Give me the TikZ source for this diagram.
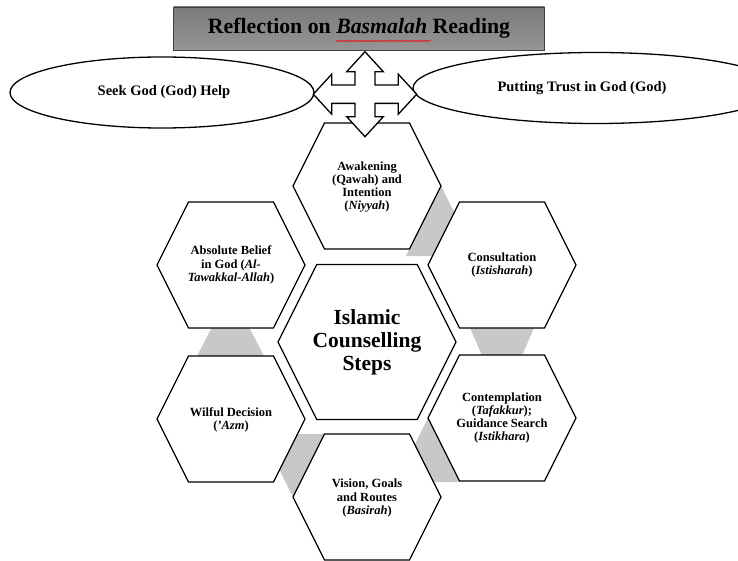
\documentclass[tikz,border=0pt]{standalone}
\usepackage{fontspec}
\setmainfont{Liberation Serif}
\usetikzlibrary{shapes.geometric,decorations.pathmorphing}
\definecolor{conn}{RGB}{200,200,200}
\definecolor{titletop}{RGB}{122,122,122}
\definecolor{titlebot}{RGB}{150,150,150}
\newcommand\hexat[5]{\draw[hexbox] ({#1-#3},#2) -- ({#1-#3+#5},{#2-#4}) -- ({#1+#3-#5},{#2-#4}) -- ({#1+#3},#2) -- ({#1+#3-#5},{#2+#4}) -- ({#1-#3+#5},{#2+#4}) -- cycle;}
\begin{document}
\begin{tikzpicture}[x=1pt,y=-1pt,
  hexbox/.style={draw=black,line width=1.3pt,fill=white,line join=miter},
  conbox/.style={fill=conn,draw=none},
  steptext/.style={align=center,font=\fontsize{12.5}{13.3}\selectfont\bfseries,inner sep=0pt},
  maintext/.style={align=center,font=\fontsize{21.5}{23}\selectfont\bfseries,inner sep=0pt},
  ovalbox/.style={draw=black,line width=1.3pt,fill=white,ellipse,inner sep=0pt},
  ovaltext/.style={font=\fontsize{14.5}{16}\selectfont\bfseries,inner sep=0pt},
  titlebox/.style={draw=black!75,line width=0.8pt,top color=titletop,bottom color=titlebot,minimum width=371pt,minimum height=43pt,inner sep=0pt,font=\fontsize{21.8}{24}\selectfont\bfseries},
  quadarrow/.style={draw=black,line width=1.3pt,fill=white,line join=miter}]
\useasboundingbox (0,0) rectangle (738,561);
% gray connectors
\fill[conbox] (441,186) -- (476,256) -- (406,256) -- cycle;
\fill[conbox] (467.5,322) -- (536.5,322) -- (521,358) -- (483,358) -- cycle;
\fill[conbox] (428,418) -- (460,482) -- (396,482) -- cycle;
\fill[conbox] (293,497) -- (261.5,434) -- (326,434) -- cycle;
\fill[conbox] (212.5,326) -- (248.5,326) -- (265,358) -- (196,358) -- cycle;
% hexagons
\hexat{367}{186}{74}{63}{31.5}
\hexat{502}{265}{74}{63}{31.5}
\hexat{502}{418}{74}{63}{31.5}
\hexat{367}{497}{74}{63}{31.5}
\hexat{231}{419}{74}{63}{31.5}
\hexat{231}{265}{74}{63}{31.5}
\hexat{367}{342}{89}{77.5}{38.75}
% texts
\node[maintext] (core) at (367,342) {Islamic\\Counselling\\Steps};
\node[steptext] (awake) at (367,187) {Awakening\\(Qawah) and\\Intention\\(\textit{Niyyah})};
\node[steptext] (consult) at (502,265) {Consultation\\(\textit{Istisharah})};
\node[steptext] (contemp) at (502,418) {Contemplation\\(\textit{Tafakkur});\\Guidance Search\\(\textit{Istikhara})};
\node[steptext] (vision) at (367,498) {Vision, Goals\\and Routes\\(\textit{Basirah})};
\node[steptext] (wilful) at (231,420) {Wilful Decision\\(\textit{'Azm})};
\node[steptext] (belief) at (231,265) {Absolute Belief\\in God (\textit{Al-}\\\textit{Tawakkal-Allah})};
% ellipses
\node[ovalbox,minimum width=304pt,minimum height=71pt] (seek) at (162,92.5) {};
\node[ovaltext] (seektext) at (164,92.5) {Seek God (God) Help};
\node[ovalbox,minimum width=366pt,minimum height=71pt] (trust) at (596,88) {};
\node[ovaltext] (trusttext) at (582,88) {Putting Trust in God (God)};
% title
\node[titlebox] (title) at (359,28.5) {Reflection on \textit{Basmalah} Reading};
\coordinate (wavy1) at (336,41);
\coordinate (wavy2) at (431,41);
\draw[red,line width=0.5pt,decorate,decoration={snake,amplitude=0.7pt,segment length=2.5pt}] (wavy1) -- (wavy2);
% four-way arrow
\draw[quadarrow,shift={(365,94.2)}] (0,-42.5) -- (-18.3,-22.5) -- (-10,-22.5) -- (-10,-9.2) -- (-33.3,-9.2) -- (-33.3,-20) -- (-51.7,0) -- (-33.3,20) -- (-33.3,9.2) -- (-10,9.2) -- (-10,22.5) -- (-18.3,22.5) -- (0,42.5) -- (18.3,22.5) -- (10,22.5) -- (10,9.2) -- (33.3,9.2) -- (33.3,20) -- (51.7,0) -- (33.3,-20) -- (33.3,-9.2) -- (10,-9.2) -- (10,-22.5) -- (18.3,-22.5) -- cycle;
\end{tikzpicture}
\end{document}
